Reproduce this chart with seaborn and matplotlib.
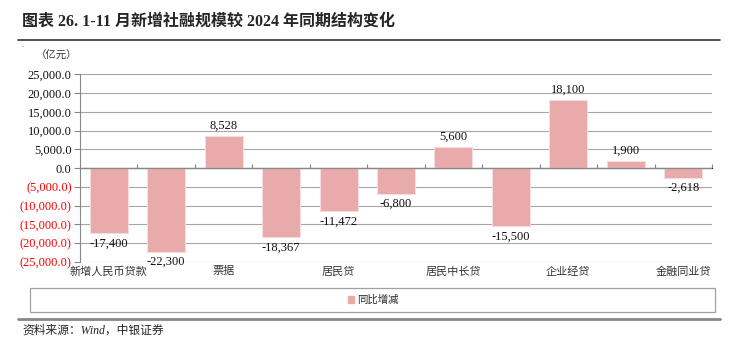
import pandas as pd
import matplotlib.pyplot as plt
import seaborn as sns
from matplotlib.ticker import FuncFormatter


categories = ['新增人民币贷款', '企业贷', '票据', '企业中长贷', '居民贷', '居民短贷',
              '居民中长贷', '企业短贷', '企业经贷', '非银贷款', '金融同业贷']
yoy_change = [-17400, -22300, 8528, -18367, -11472, -6800, 5600, -15500, 18100, 1900, -2618]
shown_labels = ['新增人民币贷款', '票据', '居民贷', '居民中长贷', '企业经贷', '金融同业贷']
y_ticks = [-25000, -20000, -15000, -10000, -5000, 0, 5000, 10000, 15000, 20000, 25000]

df = pd.DataFrame({'cat': categories, 'val': yoy_change})

sns.set_style('white')
plt.rcParams['font.family'] = ['Liberation Serif', 'Noto Sans CJK SC', 'DejaVu Sans']

fig = plt.figure(figsize=(7.34, 3.53), dpi=100)
ax = fig.add_axes([80 / 734, 1 - 262 / 353, (712 - 80) / 734, (262 - 74.3) / 353])

bar_color = '#E8AAAA'
sns.barplot(data=df, x='cat', y='val', order=categories, color=bar_color,
            edgecolor='#F6DCDC', linewidth=0.8, width=0.66, saturation=1, ax=ax)

# data labels
ax.bar_label(ax.containers[0], labels=[f'{v:,.0f}' for v in yoy_change], padding=3,
             fontsize=9, family='Liberation Serif', color='#111111')

# y axis
ax.set_ylim(-25000, 25000)
ax.set_yticks(y_ticks)
ax.yaxis.set_major_formatter(FuncFormatter(
    lambda v, p: f'{v:,.1f}' if v >= 0 else f'({abs(v):,.1f})'))
for lab, v in zip(ax.get_yticklabels(), y_ticks):
    lab.set_color('red' if v < 0 else '#111111')
    lab.set_fontsize(9)
ax.tick_params(axis='y', direction='out', length=4, width=0.8, color='#888888', pad=2, left=True)
ax.grid(axis='y', color='#A6A6A6', linewidth=0.8)
ax.set_axisbelow(True)

# x axis: labels at the bottom, every other category
ax.set_xlim(-0.5, len(categories) - 0.5)
pos = [categories.index(c) for c in shown_labels]
ax.set_xticks(pos)
ax.set_xticklabels(shown_labels, fontsize=8, color='#333333', family='Noto Sans CJK SC')
ax.tick_params(axis='x', length=0, pad=3)
ax.set_xlabel('')
ax.set_ylabel('')

for s in ['top', 'right', 'bottom']:
    ax.spines[s].set_visible(False)
ax.spines['left'].set_color('#888888')
ax.spines['left'].set_linewidth(0.8)

# zero line with category separator ticks
ax.axhline(0, color='#888888', linewidth=0.9, zorder=1)
sec = ax.secondary_xaxis(0.5)
sec.set_xticks([i + 0.5 for i in range(len(categories))])
sec.set_xticklabels([])
sec.tick_params(axis='x', direction='out', length=3, width=0.8, color='#888888')
sec.spines['bottom'].set_visible(False)

# title and header
fig.text(22 / 734, 1 - 22 / 353, '图表 26. 1-11 月新增社融规模较 2024 年同期结构变化',
         fontsize=11.5, fontweight='bold', va='center', ha='left',
         family=['Liberation Serif', 'Noto Sans CJK SC'])
fig.add_artist(plt.Line2D([18 / 734, 720 / 734], [1 - 40 / 353, 1 - 40 / 353],
                          color='#333333', linewidth=1.2))
fig.text(22 / 734, 1 - 47 / 353, '▪', fontsize=3, color='#999999', va='center')
fig.text(36 / 734, 1 - 56 / 353, '（亿元）', fontsize=7.5, va='center', ha='left',
         color='#333333', family='Noto Sans CJK SC')

# legend box
fig.add_artist(plt.Rectangle((30 / 734, 1 - 312 / 353), (715 - 30) / 734, 24 / 353,
                             fill=False, edgecolor='#A0A0A0', linewidth=0.9))
handle = plt.Rectangle((0, 0), 1, 1, color=bar_color)
fig.legend([handle], ['同比增减'], loc='center', bbox_to_anchor=(373 / 734, 1 - 300 / 353),
           frameon=False, fontsize=7.5, handlelength=0.6, handleheight=0.6,
           handletextpad=0.3, prop={'family': 'Noto Sans CJK SC', 'size': 7.5})

# footer
fig.add_artist(plt.Line2D([18 / 734, 720 / 734], [1 - 319 / 353, 1 - 319 / 353],
                          color='#888888', linewidth=2))
fig.text(22 / 734, 1 - 331 / 353, '资料来源：Wind，中银证券', fontsize=8.5, style='italic',
         va='center', ha='left', family=['Liberation Serif', 'Noto Sans CJK SC'])

plt.savefig('out.png', dpi=100)
